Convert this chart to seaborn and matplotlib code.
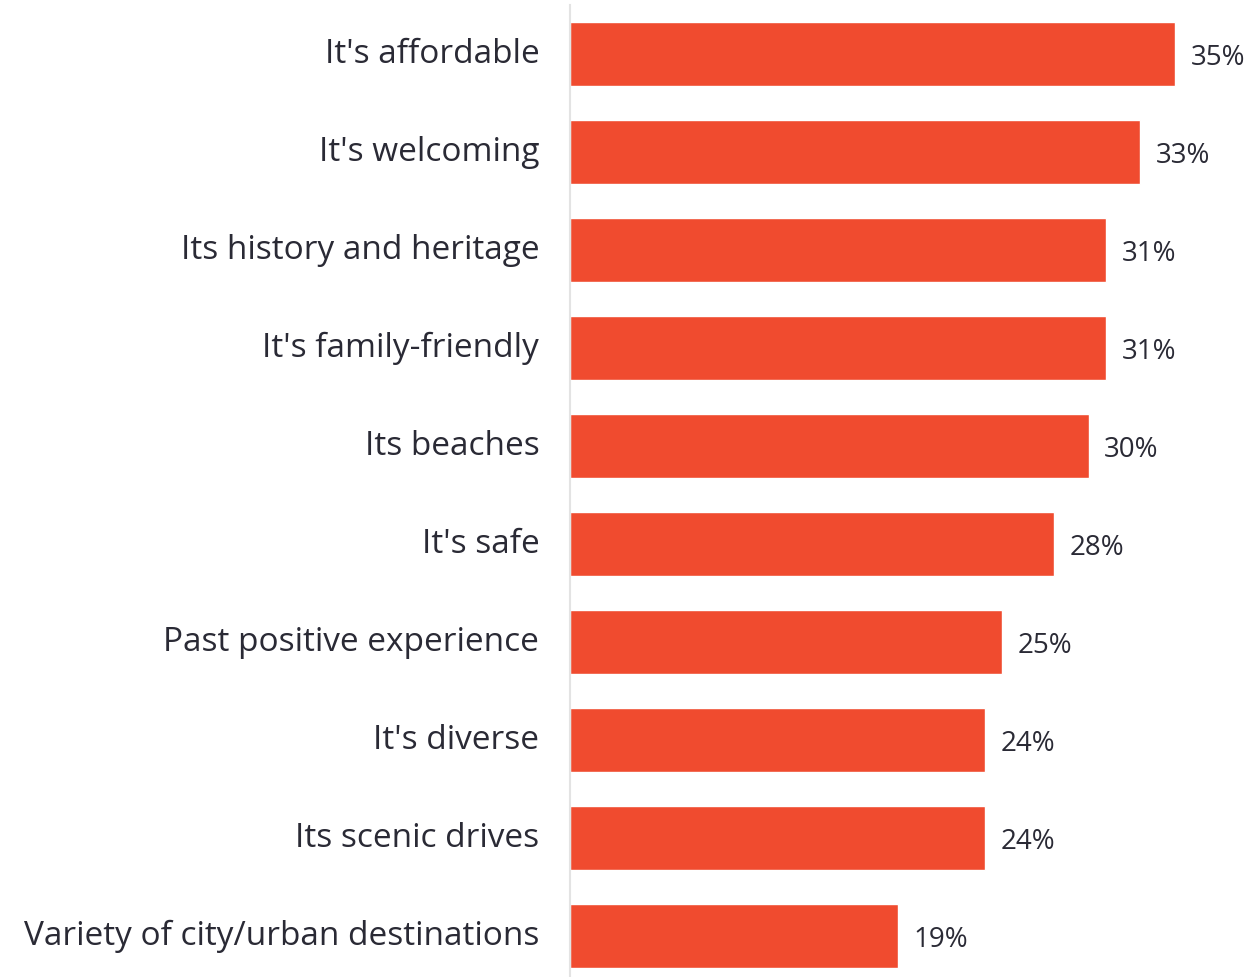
import pandas as pd
import seaborn as sns
import matplotlib.pyplot as plt

# data
reasons = ["It's affordable", "It's welcoming", "Its history and heritage",
           "It's family-friendly", "Its beaches", "It's safe",
           "Past positive experience", "It's diverse", "Its scenic drives",
           "Variety of city/urban destinations"]
shares = [35, 33, 31, 31, 30, 28, 25, 24, 24, 19]

df = pd.DataFrame({'reason': reasons, 'share': shares})

sns.set_style('white')
plt.rcParams['font.family'] = ['Open Sans', 'DejaVu Sans']

fig = plt.figure(figsize=(12.58, 9.77), dpi=100)
ax = fig.add_axes([0.453, -0.0082, 0.547, 1.003])

sns.barplot(data=df, x='share', y='reason', color='#F04B2F', saturation=1,
            width=0.65, ax=ax, orient='h')

ax.set_xlim(0, 39.8)
ax.set_xlabel('')
ax.set_ylabel('')
ax.set_xticks([])
for s in ['top', 'right', 'bottom']:
    ax.spines[s].set_visible(False)
ax.spines['left'].set_color('#e3e3e3')
ax.spines['left'].set_linewidth(1.5)
ax.tick_params(axis='y', length=0, pad=22, labelsize=24, labelcolor='#2a2a35')
for t in ax.get_yticklabels():
    t.set_va('center')

for i, v in enumerate(shares):
    ax.text(v + 0.9, i, f'{v}%', va='center_baseline', ha='left', fontsize=20, color='#2a2a35')

plt.savefig('out.png', dpi=100)
